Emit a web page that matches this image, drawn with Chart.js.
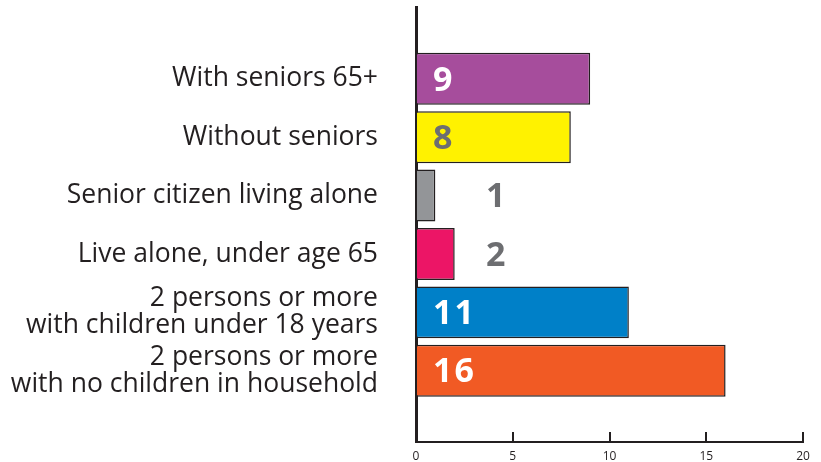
<!DOCTYPE html>
<html lang="en">

<head>
    <meta charset="UTF-8">
    <title>Households with seniors</title>
    <style>
        html, body { margin: 0; padding: 0; background: #ffffff; }
        #wrap { width: 821px; height: 462px; }
    </style>
</head>

<body>

    <div id="wrap">
        <canvas id="myChart" width="821" height="462"></canvas>
    </div>

    <script src="https://cdn.jsdelivr.net/npm/chart.js@4.4.1/dist/chart.umd.min.js"></script>

    <script>
        // categories, top to bottom
        var categories = [
            'With seniors 65+',
            'Without seniors',
            'Senior citizen living alone',
            'Live alone, under age 65',
            '2 persons or more\nwith children under 18 years',
            '2 persons or more\nwith no children in household'
        ];
        var values = [9, 8, 1, 2, 11, 16];
        var barColors = ['#a64d9c', '#fff200', '#939598', '#ec1566', '#0080c8', '#f15a24'];
        var valueColors = ['#ffffff', '#6d6e71', '#6d6e71', '#6d6e71', '#ffffff', '#ffffff'];
        var xTicks = [0, 5, 10, 15, 20];

        document.addEventListener("DOMContentLoaded", function () {

            // numbers next to / inside the bars
            var valueLabels = {
                id: 'valueLabels',
                afterDatasetsDraw: function (chart) {
                    var ctx = chart.ctx;
                    var meta = chart.getDatasetMeta(0);
                    ctx.save();
                    ctx.font = 'bold 34px "Open Sans"';
                    ctx.letterSpacing = '2px';
                    ctx.textAlign = 'left';
                    ctx.textBaseline = 'middle';
                    meta.data.forEach(function (bar, i) {
                        var x = values[i] >= 5 ? bar.base + 16 : bar.base + 69;
                        ctx.fillStyle = valueColors[i];
                        ctx.fillText(String(values[i]), x, bar.y + 2);
                    });
                    ctx.restore();
                }
            };

            var ctx = document.getElementById('myChart').getContext('2d');
            new Chart(ctx, {
                type: 'bar',
                data: {
                    datasets: [{
                        data: values.map(function (v, i) { return { x: v, y: i }; }),
                        backgroundColor: barColors,
                        borderColor: '#231f20',
                        borderWidth: 1.5,
                        barPercentage: 0.89,
                        categoryPercentage: 1
                    }]
                },
                options: {
                    indexAxis: 'y',
                    responsive: false,
                    animation: false,
                    layout: { padding: { top: 7, right: 18, bottom: 0, left: 0 } },
                    plugins: {
                        legend: { display: false },
                        tooltip: { enabled: false }
                    },
                    scales: {
                        x: {
                            type: 'linear',
                            min: 0,
                            max: 20,
                            afterBuildTicks: function (scale) {
                                scale.ticks = xTicks.map(function (v) { return { value: v }; });
                            },
                            afterFit: function (scale) {
                                scale.height = 20;
                                scale.paddingLeft = 0;
                                scale.paddingRight = 0;
                            },
                            grid: {
                                drawOnChartArea: false,
                                drawTicks: true,
                                tickLength: -10,
                                color: '#231f20',
                                lineWidth: 2
                            },
                            border: { display: true, color: '#231f20', width: 2 },
                            ticks: {
                                padding: 17,
                                color: '#231f20',
                                font: { family: 'Open Sans', size: 12 },
                                maxRotation: 0
                            }
                        },
                        y: {
                            type: 'linear',
                            offset: false,
                            reverse: true,
                            min: -1.23,
                            max: 6.22,
                            afterBuildTicks: function (scale) {
                                scale.ticks = categories.map(function (c, i) { return { value: i }; });
                            },
                            afterFit: function (scale) {
                                scale.width = 416;
                                scale.paddingTop = 0;
                                scale.paddingBottom = 0;
                            },
                            grid: { display: false, drawTicks: false },
                            border: { display: true, color: '#231f20', width: 3 },
                            ticks: {
                                padding: 38,
                                color: '#231f20',
                                font: { family: 'Open Sans', size: 26.5, lineHeight: 1.02 },
                                callback: function (v) {
                                    var label = categories[v];
                                    return label ? label.split('\n') : '';
                                }
                            }
                        }
                    }
                },
                plugins: [valueLabels]
            });
        });
    </script>

</body>

</html>
